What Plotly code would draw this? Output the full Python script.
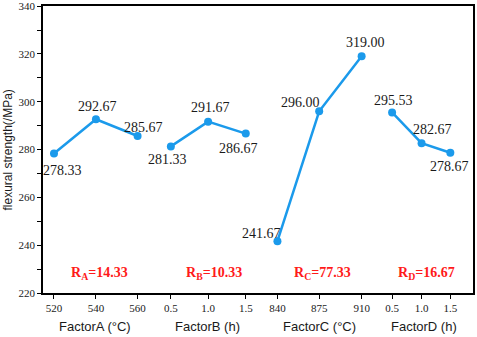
import plotly.graph_objects as go

# ---- data ----
factor_names = ["FactorA (°C)", "FactorB (h)", "FactorC (°C)", "FactorD (h)"]
levels_A = ["520", "540", "560"]
levels_B = ["0.5", "1.0", "1.5"]
levels_C = ["840", "875", "910"]
levels_D = ["0.5", "1.0", "1.5"]
values_A = [278.33, 292.67, 285.67]
values_B = [281.33, 291.67, 286.67]
values_C = [241.67, 296.00, 319.00]
values_D = [295.53, 282.67, 278.67]
range_labels = ["R<sub>A</sub>=14.33", "R<sub>B</sub>=10.33", "R<sub>C</sub>=77.33", "R<sub>D</sub>=16.67"]
y_ticks = [220, 240, 260, 280, 300, 320, 340]
y_title = "flexural strength(/MPa)"

# ---- layout positions (x axis in plot units) ----
pos_A = [54, 96, 137.7]
pos_B = [171, 208.3, 246]
pos_C = [277.7, 319.5, 362]
pos_D = [392.5, 422, 450.8]
group_centers = [95, 208, 320, 424]
r_centers = [100, 214.5, 323, 427]

# label offsets (px) per point
offs_A = [(9, 17), (2, -13), (6, -9)]
offs_B = [(-3, 13), (2, -14), (-7.5, 15)]
offs_C = [(-16, -8), (-19, -9), (3.5, -14)]
offs_D = [(1, -12), (11, -14), (-1, 14)]

blue = "#1B9AEB"
fig = go.Figure()
annotations = []
for pos, vals, offs in [(pos_A, values_A, offs_A), (pos_B, values_B, offs_B),
                        (pos_C, values_C, offs_C), (pos_D, values_D, offs_D)]:
    fig.add_trace(go.Scatter(x=pos, y=vals, mode="lines+markers",
                             line=dict(color=blue, width=2.5),
                             marker=dict(color=blue, size=8),
                             showlegend=False, hoverinfo="skip"))
    for x, v, (dx, dy) in zip(pos, vals, offs):
        annotations.append(dict(x=x, y=v, xref="x", yref="y", text=f"{v:.2f}",
                                showarrow=False, xshift=dx, yshift=-dy,
                                font=dict(family="Liberation Serif", size=14, color="#1a1a1a")))

for cx, name in zip(group_centers, factor_names):
    annotations.append(dict(x=cx, y=-0.117, xref="x", yref="paper", text=name,
                            showarrow=False, yanchor="middle",
                            font=dict(family="Liberation Sans", size=13, color="#1a1a1a")))
for cx, t in zip(r_centers, range_labels):
    annotations.append(dict(x=cx, y=228.3, xref="x", yref="y", text=f"<b>{t}</b>",
                            showarrow=False,
                            font=dict(family="Liberation Serif", size=14, color="#FF1A1A")))
annotations.append(dict(x=-0.081, y=0.497, xref="paper", yref="paper", text=y_title,
                        textangle=-90, showarrow=False, xanchor="center", yanchor="middle",
                        font=dict(family="Liberation Sans", size=12, color="#1a1a1a")))

tickvals = pos_A + pos_B + pos_C + pos_D
ticktext = levels_A + levels_B + levels_C + levels_D

fig.update_layout(
    width=477, height=337,
    margin=dict(l=43, r=4, t=6, b=44),
    plot_bgcolor="white", paper_bgcolor="white",
    annotations=annotations,
    xaxis=dict(range=[43, 473.5], tickvals=tickvals, ticktext=ticktext, automargin=False,
               showgrid=False, zeroline=False, showline=True, mirror=True,
               linecolor="black", linewidth=1.5, ticks="outside", ticklen=4,
               tickcolor="black", tickwidth=1.2,
               tickfont=dict(family="Liberation Serif", size=11, color="#1a1a1a")),
    yaxis=dict(range=[220, 340.05], tickvals=y_ticks, showgrid=False, zeroline=False,
               automargin=False, ticklabeloverflow="allow",
               showline=True, mirror=True, linecolor="black", linewidth=1.5,
               ticks="outside", ticklen=4, tickcolor="black", tickwidth=1.2,
               minor=dict(dtick=10, ticks="outside", ticklen=4, tickcolor="black", tickwidth=1.2),
               tickfont=dict(family="Liberation Serif", size=11, color="#1a1a1a")),
)
fig.write_html("out.html", config={"displayModeBar": False},
               post_script="document.body.style.margin='0px';")
